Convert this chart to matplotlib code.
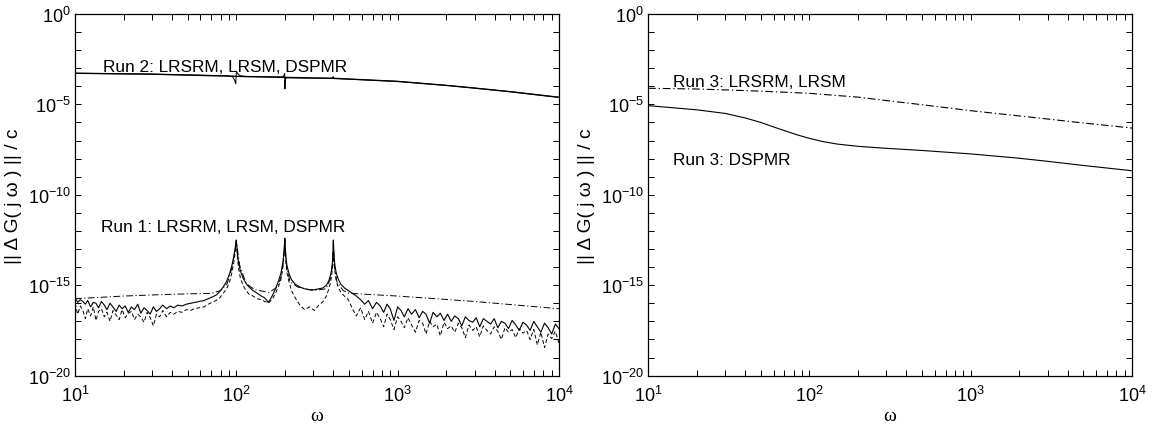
import numpy as np
import matplotlib
matplotlib.use("Agg")
import matplotlib.pyplot as plt
from matplotlib.ticker import FixedLocator, LogLocator, LogFormatterMathtext, NullFormatter

plt.rcParams['font.family'] = ['Liberation Sans', 'DejaVu Sans']
plt.rcParams['mathtext.fontset'] = 'custom'
plt.rcParams['mathtext.rm'] = 'Liberation Sans'
plt.rcParams['mathtext.it'] = 'Liberation Sans:italic'
plt.rcParams['mathtext.bf'] = 'Liberation Sans:bold'

# frequency grid shared by the noisy Run 1 curves
w_run1 = [
    10, 10.4, 10.8, 11.2, 11.6, 12, 12.5, 13, 13.5, 14,
    14.6, 15.2, 15.8, 16.5, 17.2, 18, 18.8, 19.6, 20.5, 21.4,
    22.4, 23.4, 24.5, 25.6, 26.8, 28, 29.3, 30.6, 32, 33.5,
    35, 37, 39, 41, 43.5, 46, 49, 52, 55, 59,
    63, 67, 71, 75, 79, 83, 87, 91, 94, 96.5,
    98.5, 99.5, 100, 100.5, 101.5, 103.5, 106, 110, 115, 120,
    127, 135, 143, 150, 155, 158, 162, 168, 175, 182,
    189, 194, 197.5, 199.5, 200, 200.5, 202.5, 206, 212, 220,
    232, 248, 265, 285, 305, 325, 345, 362, 375, 385,
    392, 397, 399.5, 400, 400.5, 403, 408, 416, 428, 445,
    468, 495, 525, 555, 590, 625, 660, 700, 740, 780,
    820, 860, 900, 950, 1000, 1050, 1100, 1160, 1220, 1290,
    1360, 1430, 1500, 1580, 1660, 1750, 1840, 1940, 2040, 2150,
    2260, 2380, 2500, 2630, 2770, 2920, 3070, 3230, 3400, 3580,
    3770, 3970, 4180, 4400, 4630, 4870, 5130, 5400, 5680, 5980,
    6300, 6630, 6980, 7350, 7730, 8140, 8570, 9020, 9500, 10000,
]

# log10 of the error
run1_solid = [
    -15.7, -15.95, -15.8, -15.9, -16.05, -15.85, -16.2, -15.95, -16.0, -16.25,
    -15.9, -16.1, -16.35, -16.0, -16.2, -16.45, -16.1, -16.3, -16.15, -16.5,
    -16.2, -16.35, -16.05, -16.55, -16.25, -16.4, -16.6, -16.2, -16.45, -16.3,
    -16.1, -16.3, -16.15, -16.25, -16.1, -16.15, -16.05, -16.0, -15.95, -15.9,
    -15.85, -15.75, -15.65, -15.55, -15.35, -15.1, -14.8, -14.35, -13.9, -13.4,
    -12.95, -12.65, -12.5, -12.7, -13.2, -13.8, -14.2, -14.6, -14.9, -15.1,
    -15.3, -15.45, -15.6, -15.7, -15.85, -15.95, -15.8, -15.55, -15.2, -14.8,
    -14.35, -13.8, -13.2, -12.6, -12.4, -12.65, -13.3, -13.9, -14.35, -14.7,
    -14.95, -15.1, -15.2, -15.25, -15.25, -15.2, -15.15, -15.0, -14.75, -14.4,
    -14.0, -13.4, -12.75, -12.5, -12.7, -13.3, -13.85, -14.3, -14.65, -14.95,
    -15.15, -15.3, -15.45, -15.6, -15.8, -16.05, -15.85, -16.3, -15.95, -16.15,
    -16.5, -16.05, -16.3, -16.95, -16.2, -16.4, -16.75, -16.3, -16.6, -16.35,
    -16.8, -16.45, -16.6, -17.1, -16.5, -16.75, -16.55, -16.95, -16.6, -17.0,
    -16.7, -16.85, -17.25, -16.75, -16.95, -17.05, -16.8, -17.3, -16.85, -17.0,
    -17.15, -16.85, -17.35, -17.0, -17.1, -17.4, -16.95, -17.2, -17.5, -17.05,
    -17.2, -17.5, -17.0, -17.3, -17.6, -17.1, -17.35, -17.7, -17.15, -17.4,
]

run1_dashed = [
    -16.0, -16.6, -16.15, -16.4, -16.85, -16.3, -16.7, -16.2, -16.95, -16.45,
    -16.3, -16.75, -16.5, -17.0, -16.4, -16.65, -16.9, -16.35, -16.8, -16.55,
    -16.45, -16.9, -16.6, -16.75, -17.05, -16.5, -16.8, -17.25, -16.6, -16.75,
    -16.4, -16.75, -16.5, -16.6, -16.45, -16.5, -16.35, -16.4, -16.3, -16.25,
    -16.2, -16.05, -15.95, -15.85, -15.7, -15.45, -15.2, -14.8, -14.3, -13.75,
    -13.2, -12.8, -12.55, -12.8, -13.4, -14.1, -14.6, -15.0, -15.3, -15.5,
    -15.6, -15.75, -15.8, -15.9, -15.95, -16.0, -15.9, -15.75, -15.45, -15.1,
    -14.7, -14.1, -13.4, -12.75, -12.45, -12.75, -13.6, -14.3, -14.8, -15.3,
    -15.7, -16.1, -16.35, -16.2, -16.4, -16.1, -15.9, -15.6, -15.2, -14.8,
    -14.3, -13.7, -12.95, -12.55, -12.9, -13.6, -14.2, -14.7, -15.1, -15.4,
    -15.6, -15.8, -16.3, -16.7, -16.25, -16.9, -16.45, -17.1, -16.5, -16.85,
    -17.3, -16.6, -16.9, -17.45, -16.75, -17.0, -17.35, -16.8, -17.2, -17.6,
    -16.95, -17.1, -17.7, -17.0, -17.3, -17.15, -17.8, -17.05, -17.4, -17.25,
    -17.6, -17.1, -17.35, -17.9, -17.2, -17.5, -17.3, -17.85, -17.25, -17.5,
    -17.7, -17.3, -17.55, -18.0, -17.35, -17.6, -17.45, -17.9, -17.4, -17.65,
    -17.5, -18.0, -17.45, -18.3, -17.6, -18.45, -17.7, -17.95, -17.55, -18.2,
]

w_run1_dd = [10, 20, 40, 70, 80, 88, 95, 100, 105, 115, 130, 160, 180, 190, 196,
             200, 204, 215, 240, 300, 360, 385, 395, 400, 405, 420, 460, 500,
             1000, 3000, 10000]
run1_dashdot = [-15.75, -15.6, -15.5, -15.45, -15.3, -14.9, -13.9, -12.6, -13.9,
                -14.9, -15.25, -15.4, -15.1, -14.5, -13.7, -12.5, -13.8, -14.8,
                -15.1, -15.3, -15.2, -14.6, -13.8, -12.6, -13.9, -14.8, -15.3,
                -15.45, -15.6, -15.9, -16.3]

w_run2 = [10, 30, 100, 200, 400, 1000, 2000, 3000, 5000, 10000]
run2_solid = [-3.28, -3.33, -3.45, -3.51, -3.56, -3.73, -3.95, -4.1, -4.3, -4.61]

w_run2_dd = [10, 30, 90, 95, 97.5, 99.3, 100, 101, 103, 107,
             115, 150, 190, 196, 198.5, 199.6, 200.2, 201, 203, 210,
             300, 390, 397, 400, 403, 410, 1000, 2000, 3000, 5000,
             10000]
run2_dashdot = [-3.28, -3.33, -3.42, -3.48, -3.65, -3.87, -3.25, -3.23, -3.35, -3.43,
                -3.46, -3.47, -3.48, -3.45, -3.35, -3.3, -4.15, -3.7, -3.55, -3.53,
                -3.55, -3.56, -3.5, -3.47, -3.58, -3.57, -3.73, -3.95, -4.1, -4.3,
                -4.61]

w_run3_solid = [10, 20, 30, 40, 50, 60, 70, 85, 100, 120, 150, 200, 300, 500,
                1000, 2000, 3000, 5000, 10000]
run3_dspmr = [-5.07, -5.3, -5.5, -5.75, -6.0, -6.25, -6.45, -6.7, -6.88, -7.05,
              -7.2, -7.32, -7.43, -7.55, -7.74, -7.98, -8.15, -8.38, -8.67]

w_run3_dd = [10, 20, 30, 50, 100, 200, 300, 500, 1000, 2000, 3000, 5000, 10000]
run3_lrsm = [-4.11, -4.15, -4.2, -4.27, -4.39, -4.6, -4.79, -5.02, -5.35, -5.64,
             -5.81, -6.03, -6.31]

ylabel = "|| \u0394 G( j \u03c9 ) || / c"
dashdot = (0, (7, 2.5, 1.2, 2.5))
dashed = (0, (4, 2.5))


def style_axes(ax):
    ax.set_xscale('log')
    ax.set_yscale('log')
    ax.set_xlim(10, 1e4)
    ax.set_ylim(1e-20, 1e0)
    ax.xaxis.set_major_locator(FixedLocator([1e1, 1e2, 1e3, 1e4]))
    ax.xaxis.set_minor_locator(LogLocator(base=10, subs=np.arange(2, 10), numticks=20))
    ax.xaxis.set_major_formatter(LogFormatterMathtext())
    ax.xaxis.set_minor_formatter(NullFormatter())
    ax.yaxis.set_major_locator(FixedLocator(10.0 ** np.arange(-20, 1, 5)))
    ax.yaxis.set_minor_locator(FixedLocator(10.0 ** np.arange(-20, 1)))
    ax.yaxis.set_major_formatter(LogFormatterMathtext())
    ax.yaxis.set_minor_formatter(NullFormatter())
    ax.tick_params(which='both', direction='in', top=True, right=True,
                   length=4, width=0.7, labelsize=13)
    ax.tick_params(axis='x', which='major', pad=7)
    ax.tick_params(axis='y', which='major', pad=3)
    for s in ax.spines.values():
        s.set_linewidth(0.9)
    ax.set_xlabel("\u03c9", family='Liberation Serif', fontsize=14, labelpad=1)
    ax.set_ylabel(ylabel, fontsize=13.8)
    ax.yaxis.set_label_coords(-0.11, 0.5)


fig = plt.figure(figsize=(11.62, 4.27), dpi=100)
ax1 = fig.add_axes([0.0645, 0.118, 0.4165, 0.847])
ax2 = fig.add_axes([0.5577, 0.118, 0.4165, 0.847])

ax1.plot(w_run1, 10.0 ** np.array(run1_dashed), color='black', lw=0.7, ls=dashed)
ax1.plot(w_run1_dd, 10.0 ** np.array(run1_dashdot), color='black', lw=0.7, ls=dashdot)
ax1.plot(w_run1, 10.0 ** np.array(run1_solid), color='black', lw=0.8)
ax1.plot(w_run2_dd, 10.0 ** np.array(run2_dashdot), color='black', lw=0.7)
ax1.plot(w_run2, 10.0 ** np.array(run2_solid), color='black', lw=1.0)
ax1.text(14.9, 10 ** -3.15, "Run 2: LRSRM, LRSM, DSPMR", fontsize=12.4, va='baseline')
ax1.text(14.6, 10 ** -11.98, "Run 1: LRSRM, LRSM, DSPMR", fontsize=12.4, va='baseline')
style_axes(ax1)

ax2.plot(w_run3_dd, 10.0 ** np.array(run3_lrsm), color='black', lw=0.8, ls=dashdot)
ax2.plot(w_run3_solid, 10.0 ** np.array(run3_dspmr), color='black', lw=0.8)
ax2.text(14.3, 10 ** -3.98, "Run 3: LRSRM, LRSM", fontsize=12.4, va='baseline')
ax2.text(14.3, 10 ** -8.3, "Run 3: DSPMR", fontsize=12.4, va='baseline')
style_axes(ax2)

fig.savefig("out.png", dpi=100)
